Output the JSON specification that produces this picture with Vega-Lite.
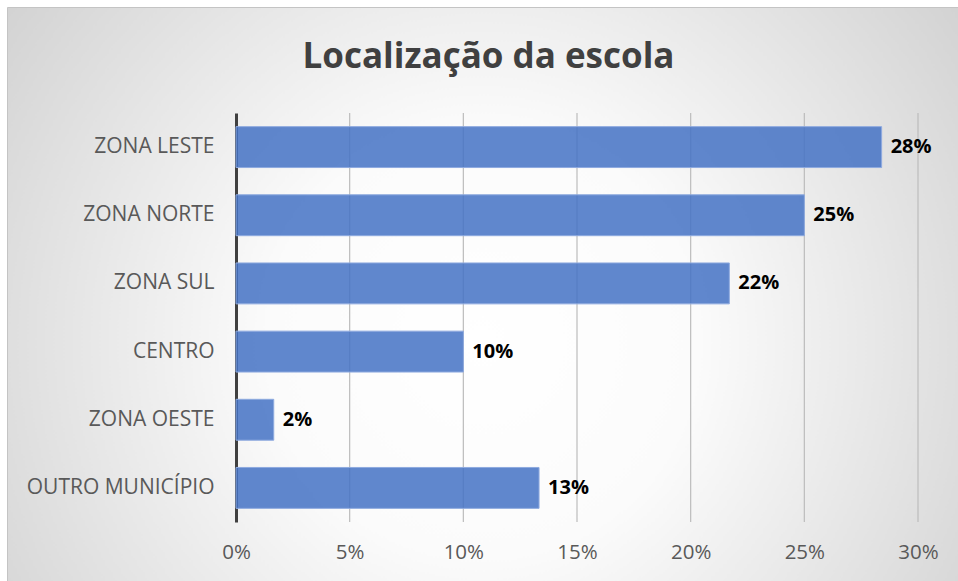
{
  "$schema": "https://vega.github.io/schema/vega-lite/v6.json",
  "width": 951,
  "height": 574,
  "autosize": {"type": "none"},
  "padding": {"left": 7, "top": 7, "right": 0, "bottom": 0},
  "background": "#ffffff",
  "title": {
    "text": "Localização da escola",
    "font": "Open Sans",
    "fontSize": 35,
    "fontWeight": "bold",
    "color": "#404040",
    "anchor": "middle",
    "frame": "group",
    "baseline": "alphabetic",
    "offset": -96,
    "dx": 6
  },
  "config": {
    "view": {
      "stroke": "#c4c4c4",
      "strokeWidth": 1,
      "fill": {
        "gradient": "radial",
        "x1": 0.5, "y1": 0.55, "r1": 0,
        "x2": 0.5, "y2": 0.55, "r2": 0.75,
        "stops": [
          {"offset": 0, "color": "#ffffff"},
          {"offset": 0.3, "color": "#fbfbfb"},
          {"offset": 1, "color": "#c4c4c4"}
        ]
      }
    },
    "font": "Open Sans"
  },
  "layer": [
    {
      "data": {"values": [{"g": 0.05}, {"g": 0.1}, {"g": 0.15}, {"g": 0.2}, {"g": 0.25}, {"g": 0.3}]},
      "mark": {"type": "rule", "color": "#bcbcbc", "strokeWidth": 1.2},
      "encoding": {
        "x": {"field": "g", "type": "quantitative"},
        "y": {"datum": "ZONA LESTE", "bandPosition": 0},
        "y2": {"datum": "OUTRO MUNICÍPIO", "bandPosition": 1}
      }
    },
    {
      "data": {
        "values": [
          {"local": "ZONA LESTE", "pct": 0.284},
          {"local": "ZONA NORTE", "pct": 0.25},
          {"local": "ZONA SUL", "pct": 0.217},
          {"local": "CENTRO", "pct": 0.1},
          {"local": "ZONA OESTE", "pct": 0.0166},
          {"local": "OUTRO MUNICÍPIO", "pct": 0.1333}
        ]
      },
      "encoding": {
        "y": {"field": "local", "type": "nominal", "sort": null},
        "x": {"field": "pct", "type": "quantitative"}
      },
      "layer": [
        {
          "mark": {"type": "bar", "height": {"band": 0.6}, "color": "#4472C4", "fillOpacity": 0.85, "stroke": "#8eaadf", "strokeWidth": 1}
        },
        {
          "mark": {"type": "text", "align": "left", "baseline": "middle", "dx": 9, "font": "Open Sans", "fontSize": 20, "fontWeight": "bold", "color": "#000000"},
          "encoding": {
            "text": {"field": "pct", "type": "quantitative", "format": ".0%"}
          }
        }
      ]
    }
  ],
  "encoding": {
    "y": {
      "type": "nominal",
      "title": null,
      "scale": {
        "domain": ["ZONA LESTE", "ZONA NORTE", "ZONA SUL", "CENTRO", "ZONA OESTE", "OUTRO MUNICÍPIO"],
        "range": [106, 515], "paddingInner": 0, "paddingOuter": 0
      },
      "axis": {
        "offset": -229,
        "domainColor": "#404040",
        "domainWidth": 3,
        "ticks": false,
        "labelPadding": 22,
        "labelLimit": 0,
        "labelFont": "Open Sans",
        "labelFontSize": 21,
        "labelColor": "#595959",
        "grid": false
      }
    },
    "x": {
      "type": "quantitative",
      "title": null,
      "scale": {"domain": [0, 0.3], "range": [229, 911], "nice": false, "zero": true},
      "axis": {
        "offset": -59,
        "format": ".0%",
        "values": [0, 0.05, 0.1, 0.15, 0.2, 0.25, 0.3],
        "domain": false,
        "ticks": false,
        "labelFlush": false,
        "labelPadding": 20,
        "labelFont": "Open Sans",
        "labelFontSize": 20.5,
        "labelColor": "#595959",
        "grid": false
      }
    }
  }
}
